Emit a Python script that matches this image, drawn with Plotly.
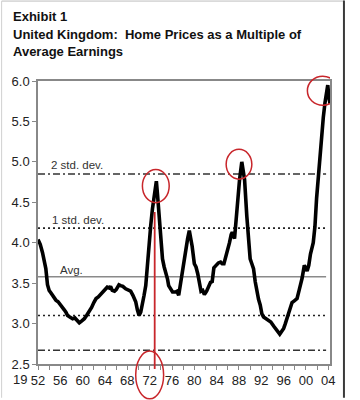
import plotly.graph_objects as go

# ---- data ----
years = [1952.0, 1952.4, 1952.8, 1953.1, 1953.4, 1953.7, 1954.0, 1954.3, 1954.6, 1954.9,
         1955.2, 1955.6, 1956.1, 1956.4, 1956.7, 1957.0, 1957.3, 1957.7, 1958.2, 1958.6,
         1959.0, 1959.4, 1959.8, 1960.3, 1960.7, 1961.2, 1961.6, 1962.0, 1962.4, 1962.8,
         1963.3, 1963.7, 1964.0, 1964.4, 1964.8, 1965.0, 1965.3, 1965.7, 1966.0, 1966.5,
         1966.8, 1967.2, 1967.7, 1968.1, 1968.6, 1969.0, 1969.5, 1969.8, 1970.1, 1970.4,
         1970.7, 1971.0, 1971.3, 1971.6, 1971.9, 1972.2, 1972.5, 1972.9, 1973.2, 1973.4,
         1973.6, 1973.8, 1974.0, 1974.3, 1974.6, 1974.9, 1975.2, 1975.4, 1975.8, 1976.1,
         1976.6, 1976.9, 1977.2, 1977.5, 1977.8, 1978.1, 1978.4, 1978.8, 1979.1, 1979.4,
         1979.6, 1980.0, 1980.3, 1980.6, 1980.9, 1981.2, 1981.5, 1981.8, 1982.2, 1982.6,
         1982.9, 1983.2, 1983.5, 1983.9, 1984.3, 1984.7, 1985.0, 1985.3, 1985.6, 1985.9,
         1986.3, 1986.6, 1986.8, 1987.2, 1987.5, 1987.7, 1988.1, 1988.5, 1988.8, 1989.0,
         1989.4, 1989.7, 1990.0, 1990.3, 1990.6, 1990.9, 1991.2, 1991.5, 1991.8, 1992.1,
         1992.4, 1992.8, 1993.3, 1993.7, 1994.2, 1994.5, 1994.8, 1995.1, 1995.3, 1995.6,
         1996.0, 1996.3, 1996.6, 1997.0, 1997.5, 1997.9, 1998.4, 1998.8, 1999.3, 1999.7,
         2000.2, 2000.5, 2000.8, 2001.3, 2001.6, 2001.9, 2002.2, 2002.5, 2002.8, 2003.1,
         2003.4, 2003.7, 2003.9, 2004.1, 2004.3]
ratio = [4.04, 3.98, 3.88, 3.78, 3.68, 3.48, 3.41, 3.38, 3.35, 3.33,
         3.29, 3.27, 3.23, 3.21, 3.17, 3.14, 3.10, 3.08, 3.06, 3.07,
         3.04, 3.01, 3.03, 3.06, 3.10, 3.15, 3.20, 3.26, 3.31, 3.33,
         3.37, 3.40, 3.42, 3.45, 3.44, 3.46, 3.41, 3.40, 3.42, 3.48,
         3.47, 3.46, 3.43, 3.42, 3.40, 3.35, 3.27, 3.17, 3.10, 3.14,
         3.23, 3.35, 3.47, 3.75, 4.01, 4.22, 4.42, 4.60, 4.76, 4.60,
         4.42, 4.25, 4.09, 3.80, 3.70, 3.64, 3.55, 3.47, 3.42, 3.39,
         3.39, 3.40, 3.35, 3.48, 3.64, 3.78, 3.92, 4.05, 4.15, 4.05,
         3.96, 3.74, 3.70, 3.62, 3.50, 3.40, 3.41, 3.36, 3.40, 3.47,
         3.51, 3.52, 3.69, 3.72, 3.75, 3.76, 3.74, 3.74, 3.82, 3.86,
         4.00, 4.10, 4.13, 4.05, 4.30, 4.46, 4.78, 5.00, 4.90, 4.78,
         4.33, 4.00, 3.80, 3.74, 3.68, 3.52, 3.39, 3.30, 3.23, 3.12,
         3.08, 3.06, 3.03, 3.02, 2.97, 2.94, 2.92, 2.88, 2.87, 2.90,
         2.94, 3.00, 3.06, 3.15, 3.26, 3.28, 3.31, 3.42, 3.56, 3.72,
         3.65, 3.72, 3.86, 4.00, 4.20, 4.55, 4.82, 5.05, 5.32, 5.55,
         5.73, 5.92, 5.95, 5.80, 5.72]

ref_names = ["2 std. dev.", "1 std. dev.", "Avg.", "-1 std. dev.", "-2 std. dev."]
ref_values = [4.85, 4.18, 3.58, 3.10, 2.67]
ref_labels = ["2 std. dev.", "1 std. dev.", "Avg.", "", ""]

x_tick_vals = [1952, 1956, 1960, 1964, 1968, 1972, 1976, 1980, 1984, 1988, 1992, 1996, 2000, 2004]
x_tick_text = ["52", "56", "60", "64", "68", "72", "76", "80", "84", "88", "92", "96", "00", "04"]
y_tick_vals = [2.5, 3.0, 3.5, 4.0, 4.5, 5.0, 5.5, 6.0]

# highlighted peaks (center year, center value, width in years, height in value units)
circle_x = [1973.1, 1988.0, 2003.0]
circle_y = [4.70, 4.97, 5.88]
circle_w = [4.8, 4.6, 5.5]
circle_h = [0.41, 0.37, 0.36]
marked_year = 1972.9

# ---- layout constants ----
W, H = 360, 400
ML, MR, MT, MB = 37, 30, 81, 34
YMIN, YMAX = 2.5, 6.0
XMIN, XMAX = 1952, 2004.3
PW, PH = W - ML - MR, H - MT - MB


def py(v):  # value -> paper y
    return (v - YMIN) / (YMAX - YMIN)


def px_x(p):  # pixel x -> paper x
    return (p - ML) / PW


def px_y(p):  # pixel y -> paper y
    return (H - MB - p) / PH


FONT = "Liberation Sans, Arial, sans-serif"

fig = go.Figure()
fig.add_trace(go.Scatter(x=years, y=ratio, mode="lines",
                         line=dict(color="black", width=3.6),
                         hoverinfo="skip", showlegend=False))

shapes = []
styles = {
    "2 std. dev.": dict(color="#333333", width=1.3, dash="7px,3px,2px,3px"),
    "1 std. dev.": dict(color="#222222", width=1.6, dash="2px,3px"),
    "Avg.": dict(color="#8a8a8a", width=1.5, dash="solid"),
    "-1 std. dev.": dict(color="#222222", width=1.6, dash="2px,3px"),
    "-2 std. dev.": dict(color="#333333", width=1.3, dash="7px,3px,2px,3px"),
}
for name, v in zip(ref_names, ref_values):
    shapes.append(dict(type="line", xref="x", yref="y", x0=XMIN, x1=2003.6, y0=v, y1=v,
                       line=styles[name], layer="below"))

RED = "#c8262b"
# vertical marker line from the 1973 peak down past the axis
shapes.append(dict(type="line", xref="x", yref="paper", x0=marked_year, x1=marked_year,
                   y0=px_y(371), y1=py(4.38), line=dict(color=RED, width=1.8), layer="above"))
for cx, cy, cw, ch in zip(circle_x, circle_y, circle_w, circle_h):
    shapes.append(dict(type="circle", xref="x", yref="paper",
                       x0=cx - cw / 2, x1=cx + cw / 2, y0=py(cy - ch / 2), y1=py(cy + ch / 2),
                       line=dict(color=RED, width=1.5), layer="above"))
# circle round the "72" tick label
shapes.append(dict(type="circle", xref="x", yref="paper",
                   x0=1969.5, x1=1974.5, y0=px_y(401), y1=px_y(353),
                   line=dict(color=RED, width=1.5), layer="above"))

# outer exhibit frame
shapes.append(dict(type="line", xref="paper", yref="paper", x0=px_x(0.5), x1=px_x(344),
                   y0=px_y(0.5), y1=px_y(0.5), line=dict(color="#bdbdbd", width=1)))
shapes.append(dict(type="line", xref="paper", yref="paper", x0=px_x(0.5), x1=px_x(0.5),
                   y0=px_y(0.5), y1=px_y(400), line=dict(color="#d0d0d0", width=1)))
shapes.append(dict(type="line", xref="paper", yref="paper", x0=px_x(344), x1=px_x(344),
                   y0=px_y(0), y1=px_y(400), line=dict(color="#3a3a3a", width=2)))

annotations = []
label_pos = {"2 std. dev.": (1953.9, 4.96), "1 std. dev.": (1954.1, 4.28), "Avg.": (1955.6, 3.66)}
for name, lab in zip(ref_names, ref_labels):
    if lab:
        lx, ly = label_pos[name]
        annotations.append(dict(x=lx, y=ly, xref="x", yref="y", text=lab, showarrow=False,
                                xanchor="left", yanchor="middle",
                                font=dict(family=FONT, size=11.5, color="#333333")))
# "19" prefix of the first year label
annotations.append(dict(x=XMIN, y=px_y(382), xref="x", yref="paper", text="19", showarrow=False,
                        xanchor="right", yanchor="middle", xshift=-9,
                        font=dict(family=FONT, size=13, color="#222222")))
# titles
annotations.append(dict(x=px_x(10), y=px_y(16), xref="paper", yref="paper", text="<b>Exhibit 1</b>",
                        showarrow=False, xanchor="left", yanchor="middle",
                        font=dict(family=FONT, size=13, color="#111111")))
annotations.append(dict(x=px_x(10), y=px_y(43), xref="paper", yref="paper",
                        text="<b>United Kingdom:  Home Prices as a Multiple of<br>Average Earnings</b>",
                        showarrow=False, xanchor="left", yanchor="middle", align="left",
                        font=dict(family=FONT, size=13, color="#111111")))

fig.update_layout(
    width=W, height=H,
    margin=dict(l=ML, r=MR, t=MT, b=MB, pad=0),
    paper_bgcolor="white", plot_bgcolor="white",
    showlegend=False,
    shapes=shapes, annotations=annotations,
    xaxis=dict(range=[XMIN, XMAX], tickvals=x_tick_vals, ticktext=x_tick_text,
               showgrid=False, zeroline=False, showline=True, linecolor="#888888", linewidth=1.5,
               mirror=True, ticks="outside", ticklen=4, tickcolor="#888888", tickwidth=1,
               minor=dict(dtick=2, tick0=1952, ticks="outside", ticklen=4, tickcolor="#888888"),
               tickfont=dict(family=FONT, size=13, color="#222222"), fixedrange=True),
    yaxis=dict(range=[YMIN, YMAX], tickvals=y_tick_vals, tickformat=".1f",
               showgrid=False, zeroline=False, showline=True, linecolor="#888888", linewidth=1.5,
               mirror=True, ticks="outside", ticklen=4, tickcolor="#888888", tickwidth=1,
               tickfont=dict(family=FONT, size=13, color="#222222"), fixedrange=True),
)

fig.write_html("out.html", config={"displayModeBar": False},
               post_script="document.body.style.margin='0';document.body.style.padding='0';")
